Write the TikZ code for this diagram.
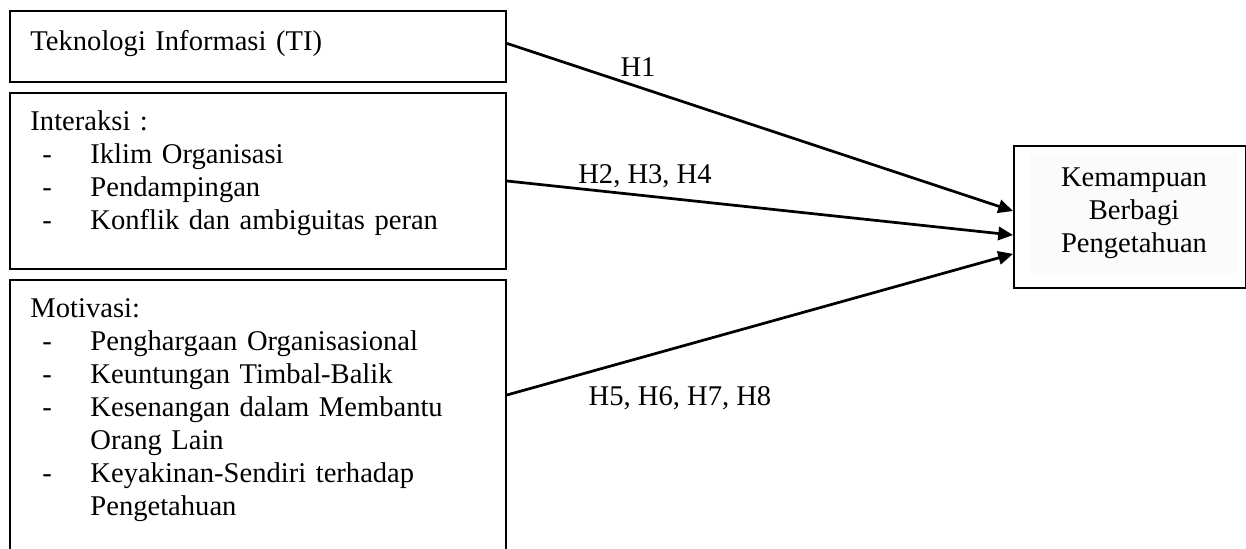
\documentclass[tikz,border=0pt]{standalone}
\usepackage{fontspec}
\setmainfont{Liberation Serif}
\usepackage{tikz}
\usetikzlibrary{
    arrows.meta,
    positioning,
    calc
}

\newlength{\px}
\setlength{\px}{0.42pt}
\newcommand{\dashitem}[1]{\makebox[60\px][l]{\hspace*{12\px}-}#1}

\begin{document}
\begin{tikzpicture}[
    x=0.42pt,
    y=-0.42pt,
    every node/.style={
        font=\fontsize{12pt}{13.9pt}\selectfont
    },
    varbox/.style={
        rectangle,
        draw=black,
        line width=0.85pt,
        anchor=north west,
        inner sep=0pt
    },
    vartext/.style={
        anchor=base west,
        inner sep=0pt,
        text width=193pt,
        align=left
    },
    hyparrow/.style={
        -{Triangle[length=6.2pt,width=5.6pt]},
        line width=1.15pt,
        draw=black
    },
    hyplabel/.style={
        anchor=base,
        inner sep=0pt
    }
]

\useasboundingbox (0,0) rectangle (1246,548);
\clip (0,0) rectangle (1246,548);

% ==========================================================
% Independent variables
% ==========================================================
\node[
    varbox,
    minimum width=208.3pt,
    minimum height=29.8pt
] (ti) at (9,10) {};

\node[vartext] (titext) at (30,50) {
    Teknologi Informasi (TI)
};

\node[
    varbox,
    minimum width=208.3pt,
    minimum height=73.9pt
] (int) at (9,92) {};

\node[vartext] (inttext) at (30,130) {
    Interaksi :\\
    \dashitem{Iklim Organisasi}\\
    \dashitem{Pendampingan}\\
    \dashitem{Konflik dan ambiguitas peran}
};

\node[
    varbox,
    minimum width=208.3pt,
    minimum height=134pt
] (mot) at (9,279) {};

\node[vartext] (mottext) at (30,317) {
    Motivasi:\\
    \dashitem{Penghargaan Organisasional}\\
    \dashitem{Keuntungan Timbal-Balik}\\
    \dashitem{Kesenangan dalam Membantu}\\
    \hspace*{60\px}Orang Lain\\
    \dashitem{Keyakinan-Sendiri terhadap}\\
    \hspace*{60\px}Pengetahuan
};

% ==========================================================
% Dependent variable
% ==========================================================
\node[
    varbox,
    minimum width=97.4pt,
    minimum height=59.6pt
] (kbp) at (1013,145) {};

\node[
    fill=black!1.5,
    inner sep=0pt,
    minimum width=87.4pt,
    minimum height=50.4pt,
    text width=87.4pt,
    align=center
] (kbptext) at (1134,213) {
    Kemampuan\\
    Berbagi\\
    Pengetahuan
};

% ==========================================================
% Hypotheses
% ==========================================================
\draw[hyparrow]
    ([yshift=1.3pt]ti.east)
    --
    ([yshift=2.5pt]kbp.west);

\draw[hyparrow]
    (int.east)
    --
    ([yshift=-7.6pt]kbp.west);

\draw[hyparrow]
    ([yshift=-48.7pt]mot.north east)
    --
    ([yshift=-15.5pt]kbp.west);

\node[hyplabel] (h1) at (638,76) {H1};
\node[hyplabel] (h234) at (645,183) {H2, H3, H4};
\node[hyplabel] (h5678) at (680,405) {H5, H6, H7, H8};

\end{tikzpicture}
\end{document}
